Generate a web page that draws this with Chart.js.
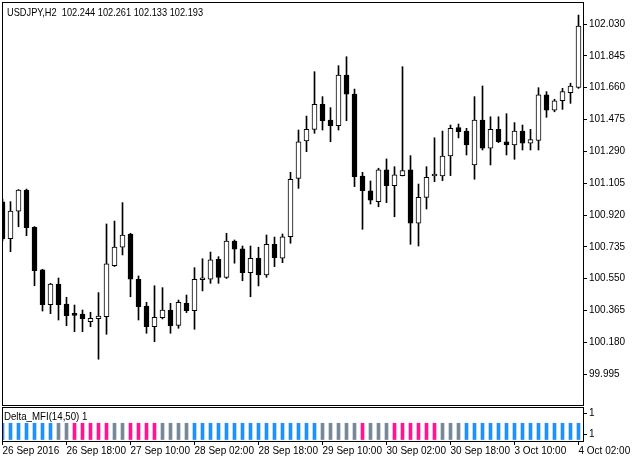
<!DOCTYPE html>
<html>
<head>
<meta charset="utf-8">
<script src="https://cdn.jsdelivr.net/npm/chart.js@4.4.1/dist/chart.umd.min.js"></script>
<style>
  body { margin: 0; background: #fff; }
  #wrap { position: relative; width: 635px; height: 460px; overflow: hidden; }
  #main { position: absolute; left: 0; top: 0; }
  #sub { position: absolute; left: 0; top: 406px; }
  .lbl { position: absolute; font: 11px "Liberation Sans", Arial, sans-serif; line-height: 11px; color: #000;
         white-space: pre; transform-origin: 0 0; }
</style>
</head>
<body>
<div id="wrap">
  <canvas id="main" width="635" height="406"></canvas>
  <canvas id="sub" width="635" height="54"></canvas>
  <div class="lbl" style="left:7px;top:7px;transform:scaleX(0.84)">USDJPY,H2  102.244 102.261 102.133 102.193</div>
  <div class="lbl" style="left:4px;top:411px;transform:scaleX(0.88)">Delta_MFI(14,50) 1</div>
</div>
<script>
// USDJPY H2, bar 0 = 26 Sep 2016 02:00
const opens = [100.996, 100.783, 100.942, 101.065, 100.849, 100.601, 100.399, 100.519, 100.403, 100.345,
  100.345, 100.300, 100.318, 100.329, 100.626, 100.733, 100.810, 100.547, 100.391, 100.271,
  100.323, 100.368, 100.279, 100.407, 100.364, 100.544, 100.547, 100.663, 100.558, 100.769,
  100.723, 100.585, 100.669, 100.572, 100.750, 100.669, 100.794, 101.133, 101.350, 101.418,
  101.563, 101.472, 101.439, 101.734, 101.623, 101.147, 101.060, 100.998, 101.182, 101.090,
  101.149, 101.182, 100.872, 101.023, 101.147, 101.147, 101.263, 101.428, 101.408, 101.211,
  101.472, 101.308, 101.418, 101.346, 101.327, 101.408, 101.337, 101.353, 101.618, 101.530,
  101.584, 101.631, 101.662];
const highs = [101.013, 100.998, 101.068, 101.071, 100.853, 100.605, 100.523, 100.554, 100.442, 100.397,
  100.368, 100.355, 100.469, 100.868, 100.885, 100.992, 100.814, 100.566, 100.413, 100.509,
  100.498, 100.407, 100.426, 100.455, 100.614, 100.666, 100.705, 100.678, 100.814, 100.775,
  100.740, 100.740, 100.733, 100.804, 100.792, 100.810, 101.168, 101.414, 101.495, 101.753,
  101.608, 101.544, 101.788, 101.840, 101.652, 101.168, 101.118, 101.192, 101.246, 101.201,
  101.782, 101.265, 101.100, 101.201, 101.369, 101.408, 101.443, 101.449, 101.424, 101.608,
  101.670, 101.491, 101.491, 101.509, 101.457, 101.443, 101.418, 101.660, 101.637, 101.593,
  101.656, 101.686, 102.082];
const lows = [100.769, 100.707, 100.852, 100.800, 100.509, 100.362, 100.347, 100.310, 100.277, 100.242,
  100.242, 100.271, 100.082, 100.227, 100.621, 100.688, 100.445, 100.310, 100.233, 100.184,
  100.316, 100.233, 100.262, 100.353, 100.256, 100.479, 100.523, 100.523, 100.551, 100.640,
  100.538, 100.445, 100.508, 100.558, 100.620, 100.643, 100.756, 101.075, 101.288, 101.395,
  101.414, 101.346, 101.414, 101.468, 101.085, 100.837, 100.984, 100.968, 100.992, 100.910,
  101.147, 100.750, 100.740, 100.955, 101.114, 101.120, 101.149, 101.368, 101.269, 101.128,
  101.298, 101.211, 101.341, 101.269, 101.244, 101.298, 101.298, 101.298, 101.488, 101.520,
  101.534, 101.569, 101.656];
const closes = [100.781, 100.943, 101.065, 100.846, 100.597, 100.399, 100.519, 100.399, 100.335, 100.337,
  100.318, 100.320, 100.333, 100.636, 100.734, 100.804, 100.547, 100.387, 100.271, 100.326,
  100.368, 100.277, 100.413, 100.364, 100.547, 100.548, 100.659, 100.558, 100.769, 100.721,
  100.585, 100.669, 100.572, 100.750, 100.672, 100.794, 101.128, 101.346, 101.418, 101.563,
  101.468, 101.439, 101.734, 101.622, 101.143, 101.061, 101.007, 101.182, 101.090, 101.153,
  101.178, 100.872, 101.023, 101.139, 101.151, 101.263, 101.424, 101.404, 101.327, 101.472,
  101.308, 101.418, 101.346, 101.327, 101.408, 101.337, 101.359, 101.618, 101.530, 101.584,
  101.637, 101.670, 102.018];

// Delta_MFI state per bar: 1 = up (blue), 0 = flat (gray), -1 = down (pink)
const mfiState = [1, 1, 1, 1, 1, 1, 1, 0, 0, -1,
  -1, -1, -1, -1, 0, 0, -1, -1, -1, -1,
  0, 0, 0, 0, 1, 1, 1, 1, 1, 1,
  1, 1, 1, 1, 1, 1, 1, 1, 1, 1,
  0, 0, 0, 0, 0, -1, 0, 0, 0, -1,
  -1, -1, -1, -1, -1, 0, 0, 0, 1, 1,
  1, 1, 1, 1, 1, 1, 1, 1, 1, 1,
  1, 1, 1];

const priceTicks = [99.995, 100.180, 100.365, 100.550, 100.735, 100.920, 101.105, 101.290, 101.475, 101.660, 101.845, 102.030];
const timeTickBars = [0, 8, 16, 24, 32, 40, 48, 56, 64, 72];
const timeLabels = ['26 Sep 2016', '26 Sep 18:00', '27 Sep 10:00', '28 Sep 02:00', '28 Sep 18:00',
  '29 Sep 10:00', '30 Sep 02:00', '30 Sep 18:00', '3 Oct 10:00', '4 Oct 02:00'];
const subTicks = [1.63, 0.34];
const subLabels = ['1', '1'];

const stateColors = { '1': '#1E90FF', '0': '#778899', '-1': '#FF1493' };

Chart.defaults.font.family = '"Liberation Sans", Arial, sans-serif';
Chart.defaults.font.size = 10;
Chart.defaults.color = '#000';

const xMin = -0.0625, xMax = 72.5625;

const frame = {
  id: 'frame',
  afterDraw(chart) {
    const { ctx, chartArea: a } = chart;
    ctx.save();
    ctx.strokeStyle = '#000';
    ctx.lineWidth = 1;
    ctx.strokeRect(a.left + 0.5, a.top + 0.5, a.right - a.left, a.bottom - a.top);
    ctx.restore();
  }
};

// keep the axes from reserving room for overhanging labels
function noPad(s) {
  s.paddingTop = 0; s.paddingBottom = 0; s.paddingLeft = 0; s.paddingRight = 0;
}

const idx = opens.map((_, i) => i);
const bodies = idx.map(i => ({ x: i, y: [Math.min(opens[i], closes[i]), Math.max(opens[i], closes[i])] }));
const wicks = idx.map(i => ({ x: i, y: [lows[i], highs[i]] }));
const bodyColors = idx.map(i => closes[i] >= opens[i] ? '#fff' : '#000');

new Chart(document.getElementById('main'), {
  type: 'bar',
  data: {
    datasets: [
      { data: bodies, backgroundColor: bodyColors, borderColor: '#000', borderWidth: 1,
        borderSkipped: false, barThickness: 5, minBarLength: 2, grouped: false },
      { data: wicks, backgroundColor: '#000', borderWidth: 0, barThickness: 1, grouped: false }
    ]
  },
  options: {
    responsive: false,
    animation: false,
    layout: { padding: { left: 2, top: 2, right: 0, bottom: 1 } },
    plugins: { legend: { display: false }, tooltip: { enabled: false } },
    scales: {
      x: { type: 'linear', display: false, min: xMin, max: xMax, offset: false, grid: { offset: false } },
      y: {
        position: 'right', min: 99.816, max: 102.158,
        afterBuildTicks: s => { s.ticks = priceTicks.map(v => ({ value: v })); },
        afterFit: s => { s.width = 52; noPad(s); },
        grid: { drawOnChartArea: false, tickLength: 4, color: '#000' },
        border: { color: '#000' },
        ticks: { autoSkip: false, padding: 2, callback: v => v.toFixed(3) }
      }
    }
  },
  plugins: [frame]
});

new Chart(document.getElementById('sub'), {
  type: 'bar',
  data: {
    datasets: [
      { data: idx.map(i => ({ x: i, y: 1 })), backgroundColor: mfiState.map(s => stateColors[s]),
        borderWidth: 0, barThickness: 3 }
    ]
  },
  options: {
    responsive: false,
    animation: false,
    layout: { padding: { left: 2, top: 1, right: 0, bottom: 0 } },
    plugins: { legend: { display: false }, tooltip: { enabled: false } },
    scales: {
      x: {
        type: 'linear', min: xMin, max: xMax, offset: false,
        afterBuildTicks: s => { s.ticks = timeTickBars.map(v => ({ value: v })); },
        afterFit: s => { s.height = 19; noPad(s); },
        grid: { drawOnChartArea: false, tickLength: 4, color: '#000', offset: false },
        border: { display: false },
        ticks: { autoSkip: false, maxRotation: 0, align: 'start', padding: 0,
          callback: (v, i) => timeLabels[i] }
      },
      y: {
        position: 'right', min: -0.09, max: 2.0,
        afterBuildTicks: s => { s.ticks = subTicks.map(v => ({ value: v })); },
        afterFit: s => { s.width = 52; noPad(s); },
        grid: { drawOnChartArea: false, tickLength: 4, color: '#000' },
        border: { color: '#000' },
        ticks: { autoSkip: false, padding: 2, callback: (v, i) => subLabels[i] }
      }
    }
  },
  plugins: [frame]
});
</script>
</body>
</html>
